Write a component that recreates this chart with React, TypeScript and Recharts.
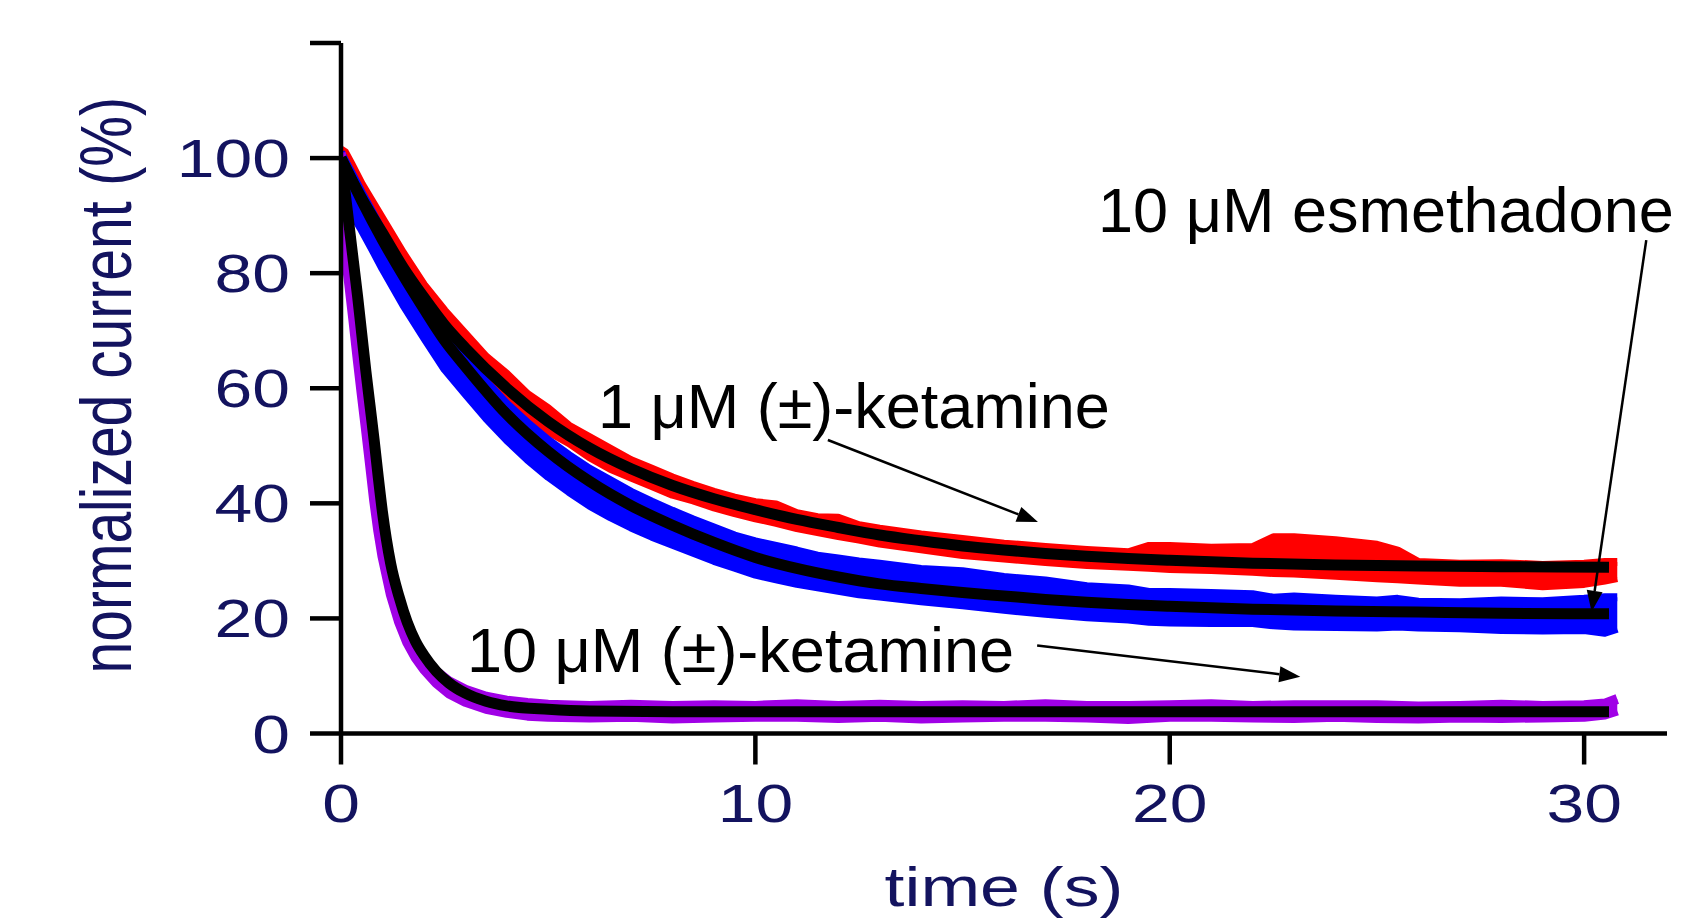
import React from "react";
import {
  ComposedChart,
  Area,
  Line,
  XAxis,
  YAxis,
  ReferenceLine,
  ReferenceDot,
} from "recharts";

const NAVY = "#13135f";
const RED = "#ff0000";
const BLUE = "#0000ff";
const PURPLE = "#a000e6";
const FONT = "'Liberation Sans', Arial, sans-serif";

const X_TICKS = [0, 10, 20, 30];
const Y_TICKS = [0, 20, 40, 60, 80, 100, 120];

// fitted curves (black)
const FIT_T = [0, 0.5, 1, 1.5, 2, 2.5, 3, 4, 5, 6, 7, 8, 9, 10, 11, 12, 13, 14, 15, 16, 17, 18, 19, 20, 22, 24, 26, 28, 30.6];
const FIT_RED = [100, 93, 87, 81, 75.8, 71, 67, 60, 54.2, 49.6, 46, 43.1, 40.8, 38.9, 37.2, 35.8, 34.5, 33.5, 32.6, 31.9, 31.3, 30.8, 30.4, 30.1, 29.6, 29.3, 29.1, 29.0, 28.9];
const FIT_BLUE = [100, 92.6, 85.8, 79.6, 73.8, 68.3, 63.8, 55.5, 49, 43.8, 39.6, 36.2, 33.2, 30.6, 28.7, 27.2, 26, 25.2, 24.5, 23.9, 23.3, 22.8, 22.4, 22.1, 21.6, 21.3, 21.1, 20.9, 20.8];
const FIT_PURPLE_T = [0, 0.1, 0.2, 0.3, 0.4, 0.5, 0.6, 0.7, 0.8, 0.9, 1.0, 1.2, 1.4, 1.6, 1.8, 2.0, 2.3, 2.6, 3.0, 3.5, 4.0, 5, 6, 8, 10, 15, 20, 25, 30.6];
const FIT_PURPLE = [100, 94, 88, 82, 76, 69.5, 63, 57, 51, 44.5, 38.5, 29.5, 23.8, 19.3, 16, 13.6, 10.8, 8.8, 7.0, 5.6, 4.8, 4.2, 3.9, 3.8, 3.8, 3.8, 3.8, 3.8, 3.8];

// recorded traces, drawn as lo..hi bands
const TRACE_T = [0, 0.1, 0.25, 0.5, 0.75, 1, 1.5, 2, 2.5, 3, 3.5, 4, 4.5, 5, 5.5, 6, 6.5, 7, 7.5, 8, 8.5, 9, 9.5, 10, 10.5, 11, 11.5, 12, 12.5, 13, 14, 15, 16, 17, 18, 19, 19.5, 20, 21, 22, 22.5, 23, 24, 25, 25.5, 26, 27, 28, 29, 30, 30.5, 30.8];
const RED_HI = [101.5, 101, 99, 95.5, 92.5, 89.5, 83.5, 78, 73.5, 69.5, 65.5, 62.5, 59, 56.5, 53.5, 51.5, 49.5, 47.5, 46, 44.5, 43.2, 42, 41, 40.2, 39.8, 38.3, 37.6, 37.5, 36.2, 35.6, 34.6, 33.8, 33, 32.4, 31.9, 31.5, 32.6, 32.6, 32.3, 32.4, 34.1, 34.1, 33.6, 32.8, 31.8, 29.8, 29.5, 29.6, 29.3, 29.5, 29.8, 29.8];
const RED_LO = [99, 97, 95, 91.5, 88.5, 85.5, 79.5, 74.5, 69.5, 65.5, 62, 58.5, 55.5, 52.5, 50.5, 48, 46, 44.5, 43, 41.5, 40.5, 39.3, 38.3, 37.4, 36.6, 35.7, 35, 34.3, 33.7, 33, 32, 31, 30.4, 29.8, 29.3, 29, 28.8, 28.6, 28.4, 28.1, 27.9, 27.8, 27.4, 27, 26.8, 26.6, 26.2, 26.2, 25.6, 26, 26.6, 27];
const BLUE_HI = [101, 99.5, 97.5, 94, 90.7, 87.3, 81, 75.3, 70, 65.5, 61.2, 57.3, 54, 51, 48.4, 46, 44, 42, 40.3, 38.7, 37.2, 35.8, 34.4, 33.4, 32.6, 31.8, 30.9, 30.4, 29.9, 29.5, 28.6, 28.2, 27.2, 26.6, 25.6, 25.2, 24.6, 24.6, 24.4, 24.2, 23.6, 23.8, 23.4, 23.1, 23.4, 22.9, 22.8, 23.1, 23, 23.4, 23.7, 23.7];
const BLUE_LO = [96, 93, 90.5, 87.5, 84.2, 80.8, 74.5, 68.8, 63.3, 59, 54.8, 51, 47.6, 44.6, 42, 39.6, 37.6, 35.8, 34.2, 32.8, 31.4, 30, 28.8, 27.6, 26.8, 26, 25.4, 24.8, 24.2, 23.8, 23, 22.3, 21.5, 20.8, 20.2, 19.8, 19.4, 19.3, 19.2, 19.2, 18.8, 18.6, 18.5, 18.4, 18.6, 18.4, 18.3, 18, 17.9, 18, 17.5, 18.2];
const PURPLE_T = [0, 0.05, 0.1, 0.2, 0.3, 0.4, 0.5, 0.6, 0.7, 0.8, 0.9, 1.0, 1.2, 1.4, 1.6, 1.8, 2.0, 2.3, 2.6, 3.0, 3.5, 4, 4.5, 5, 6, 7, 8, 9, 10, 11, 12, 13, 14, 15, 16, 17, 18, 19, 20, 21, 22, 23, 24, 25, 26, 27, 28, 29, 30, 30.5, 30.8];
const PURPLE_LO = [99, 87, 84, 78, 71.8, 65.2, 59, 53, 46.8, 40.5, 35.2, 30.8, 24.2, 19.4, 15.8, 13.2, 11.2, 8.8, 7.0, 5.5, 4.3, 3.6, 3.1, 2.9, 2.8, 2.9, 2.6, 2.8, 2.9, 2.9, 2.7, 2.9, 2.6, 2.8, 2.9, 2.9, 2.8, 2.5, 2.9, 2.9, 2.8, 2.7, 2.9, 2.7, 2.6, 2.8, 2.7, 2.8, 2.9, 3.3, 4.0];
const PURPLE_HI = [101, 89, 86, 80, 73.8, 67.2, 61, 55, 48.8, 42.5, 37.2, 32.8, 26.2, 21.4, 17.8, 15.2, 13.2, 10.8, 9.1, 7.6, 6.4, 5.7, 5.3, 5.0, 4.8, 5.0, 4.8, 4.9, 4.8, 5.1, 4.8, 5.0, 4.8, 4.9, 4.8, 5.1, 4.8, 4.8, 4.9, 5.1, 4.8, 4.9, 4.9, 4.9, 4.7, 4.8, 5.0, 4.8, 4.9, 5.2, 6.0];

// annotations, anchored in data units (text start / baseline)
const LABEL_TEXT = ["10 μM esmethadone", "1 μM (±)-ketamine", "10 μM (±)-ketamine"];
const LABEL_AT = [[18.27, 87.1], [6.2, 53.1], [3.04, 10.7]];
const ARROW_FROM = [[31.5, 85.75], [11.75, 51.0], [16.8, 15.3]];
const ARROW_TO = [[30.18, 21.16], [16.82, 36.75], [23.15, 9.87]];

const band = (t: number[], lo: number[], hi: number[]) =>
  t.map((v, i) => ({ t: v, lo: lo[i], hi: hi[i] }));
const curve = (t: number[], y: number[]) => t.map((v, i) => ({ t: v, y: y[i] }));

const redBand = band(TRACE_T, RED_LO, RED_HI);
const blueBand = band(TRACE_T, BLUE_LO, BLUE_HI);
const purpleBand = band(PURPLE_T, PURPLE_LO, PURPLE_HI);
const redFit = curve(FIT_T, FIT_RED);
const blueFit = curve(FIT_T, FIT_BLUE);
const purpleFit = curve(FIT_PURPLE_T, FIT_PURPLE);

const SX = 1.28; // the original figure is stretched sideways

const YTick = (p: any) => {
  const v = p.payload.value;
  if (v === 120) return <g />;
  return (
    <text
      transform={`translate(${p.x - 20},${p.y + 19}) scale(${SX},1)`}
      textAnchor="end"
      fontFamily={FONT}
      fontSize={53}
      fill={NAVY}
    >
      {v}
    </text>
  );
};

const XTick = (p: any) => (
  <text
    transform={`translate(${p.x},${p.y + 57.5}) scale(${SX},1)`}
    textAnchor="middle"
    fontFamily={FONT}
    fontSize={53}
    fill={NAVY}
  >
    {p.payload.value}
  </text>
);

const Arrow = (p: any) => {
  const { x1, y1, x2, y2 } = p;
  const dx = x2 - x1;
  const dy = y2 - y1;
  const len = Math.hypot(dx, dy) || 1;
  const ux = dx / len;
  const uy = dy / len;
  const hl = 21;
  const hw = 8;
  const bx = x2 - ux * hl;
  const by = y2 - uy * hl;
  return (
    <g>
      <line x1={x1} y1={y1} x2={bx} y2={by} stroke="#000" strokeWidth={2.5} />
      <polygon
        points={`${x2},${y2} ${bx - uy * hw},${by + ux * hw} ${bx + uy * hw},${by - ux * hw}`}
        fill="#000"
      />
    </g>
  );
};

const labelShape = (text: string) => (p: any) => (
  <text x={p.cx} y={p.cy} fontFamily={FONT} fontSize={63} fill="#000">
    {text}
  </text>
);

export default function App() {
  return (
    <div style={{ position: "absolute", left: 0, top: 0, width: 1684, height: 921, background: "#fff" }}>
      <ComposedChart width={1684} height={921} margin={{ top: 43, right: 17, bottom: 0, left: 0 }}>
        <XAxis
          dataKey="t"
          type="number"
          domain={[0, 32]}
          ticks={X_TICKS}
          allowDataOverflow
          height={187.5}
          tickSize={31}
          tickMargin={0}
          axisLine={{ stroke: "#000", strokeWidth: 4.5 }}
          tickLine={{ stroke: "#000", strokeWidth: 4.5 }}
          tick={XTick}
          label={(lp: any) => {
            const vb = lp.viewBox;
            return (
              <text
                transform={`translate(${vb.x + vb.width / 2},${vb.y + 172}) scale(${SX},1)`}
                textAnchor="middle"
                fontFamily={FONT}
                fontSize={56}
                fill={NAVY}
              >
                time (s)
              </text>
            );
          }}
        />
        <YAxis
          type="number"
          domain={[0, 120]}
          ticks={Y_TICKS}
          allowDataOverflow
          width={341}
          tickSize={31}
          tickMargin={0}
          axisLine={{ stroke: "#000", strokeWidth: 4.5 }}
          tickLine={{ stroke: "#000", strokeWidth: 4.5 }}
          tick={YTick}
          label={(lp: any) => {
            const vb = lp.viewBox;
            return (
              <text
                transform={`translate(${vb.x + 131},${vb.y + vb.height / 2 - 3}) scale(${SX},1) rotate(-90)`}
                textAnchor="middle"
                fontFamily={FONT}
                fontSize={57}
                fill={NAVY}
              >
                normalized current (%)
              </text>
            );
          }}
        />

        <Area
          data={redBand}
          type="linear"
          dataKey={(d: any) => [d.lo, d.hi]}
          stroke={RED}
          strokeWidth={8}
          strokeLinejoin="round"
          fill={RED}
          fillOpacity={1}
          dot={false}
          activeDot={false}
          isAnimationActive={false}
        />
        <Area
          data={blueBand}
          type="linear"
          dataKey={(d: any) => [d.lo, d.hi]}
          stroke={BLUE}
          strokeWidth={8}
          strokeLinejoin="round"
          fill={BLUE}
          fillOpacity={1}
          dot={false}
          activeDot={false}
          isAnimationActive={false}
        />
        <Area
          data={purpleBand}
          type="linear"
          dataKey={(d: any) => [d.lo, d.hi]}
          stroke={PURPLE}
          strokeWidth={10}
          strokeLinejoin="round"
          fill={PURPLE}
          fillOpacity={1}
          dot={false}
          activeDot={false}
          isAnimationActive={false}
        />

        <Line data={redFit} type="monotone" dataKey="y" stroke="#000" strokeWidth={11} dot={false} activeDot={false} isAnimationActive={false} />
        <Line data={blueFit} type="monotone" dataKey="y" stroke="#000" strokeWidth={11} dot={false} activeDot={false} isAnimationActive={false} />
        <Line data={purpleFit} type="monotone" dataKey="y" stroke="#000" strokeWidth={11} dot={false} activeDot={false} isAnimationActive={false} />

        {ARROW_FROM.map((a, i) => (
          <ReferenceLine
            key={`arrow-${i}`}
            segment={[{ x: a[0], y: a[1] }, { x: ARROW_TO[i][0], y: ARROW_TO[i][1] }]}
            ifOverflow="visible"
            shape={Arrow}
          />
        ))}
        {LABEL_TEXT.map((txt, i) => (
          <ReferenceDot
            key={`label-${i}`}
            x={LABEL_AT[i][0]}
            y={LABEL_AT[i][1]}
            r={0}
            ifOverflow="visible"
            shape={labelShape(txt)}
          />
        ))}
      </ComposedChart>
    </div>
  );
}
